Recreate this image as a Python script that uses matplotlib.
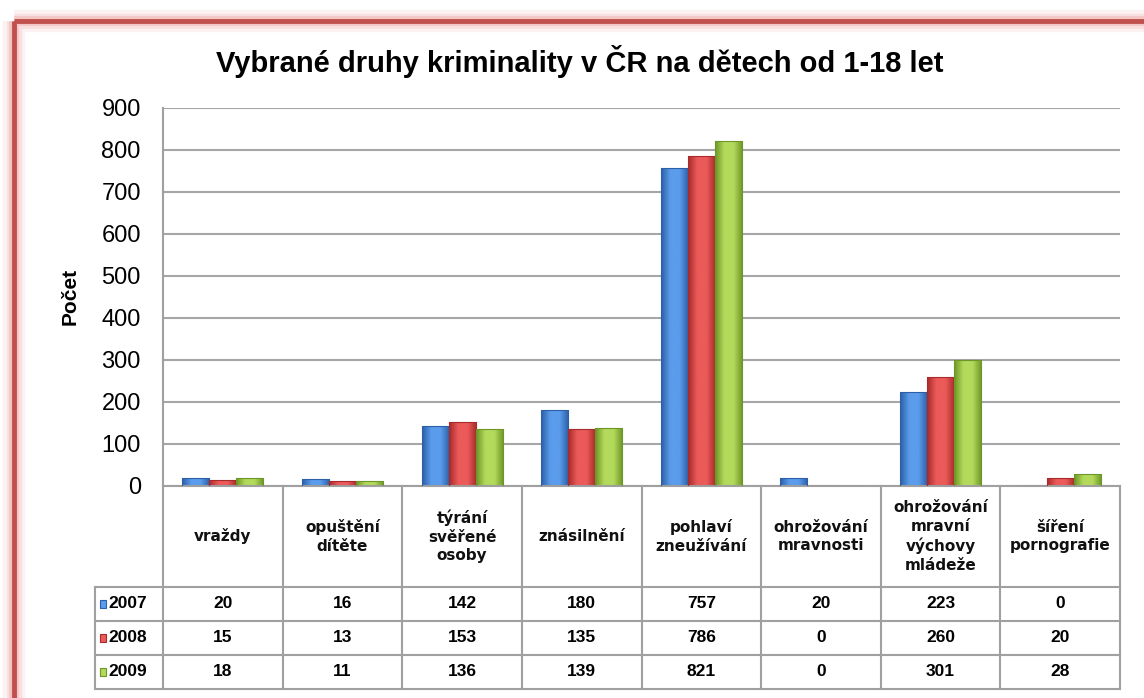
import numpy as np
import matplotlib
matplotlib.use("Agg")
import matplotlib.pyplot as plt
from matplotlib.colors import LinearSegmentedColormap
from matplotlib.patches import Rectangle

kategorie = ["vraždy", "opuštění\ndítěte", "týrání\nsvěřené\nosoby", "znásilnění",
             "pohlaví\nzneužívání", "ohrožování\nmravnosti", "ohrožování\nmravní\nvýchovy\nmládeže",
             "šíření\npornografie"]
roky = ["2007", "2008", "2009"]
h2007 = [20, 16, 142, 180, 757, 20, 223, 0]
h2008 = [15, 13, 153, 135, 786, 0, 260, 20]
h2009 = [18, 11, 136, 139, 821, 0, 301, 28]
serie = [h2007, h2008, h2009]
barvy = [("#2c5fa6", "#5b9cec"), ("#a82a2a", "#ec5a5a"), ("#6c9626", "#b4da5c")]

W, H = 1144, 698
fig = plt.figure(figsize=(W / 100, H / 100), dpi=100)
fig.patch.set_facecolor("white")

# ramecek s cervenym okrajem
bg = fig.add_axes([0, 0, 1, 1])
bg.set_xlim(0, W)
bg.set_ylim(H, 0)
bg.axis("off")
for lw, a in [(16, 0.08), (11, 0.12), (7, 0.2)]:
    bg.add_patch(Rectangle((14, 21), 1300, 900, fill=False, ec="#e06060", lw=lw, alpha=a))
bg.add_patch(Rectangle((14, 21), 1300, 900, fill=False, ec="#c0504d", lw=3.5))

def px(x0, y0, x1, y1):
    return [x0 / W, (H - y1) / H, (x1 - x0) / W, (y1 - y0) / H]

ax = fig.add_axes(px(163, 108, 1120, 486))
ax.set_xlim(-0.5, 7.5)
ax.set_ylim(0, 900)
ax.set_yticks(range(0, 901, 100))
ax.set_xticks([])
ax.tick_params(axis="y", length=0, pad=16, labelsize=17)
for s in ["top", "right"]:
    ax.spines[s].set_visible(False)
for s in ["left", "bottom"]:
    ax.spines[s].set_color("#a0a0a0")
    ax.spines[s].set_linewidth(1.5)
ax.grid(axis="y", color="#a6a6a6", lw=1.5)
ax.set_axisbelow(True)
for lab in ax.get_yticklabels():
    lab.set_family("Liberation Sans")

x = np.arange(len(kategorie))
sirka = 0.226
for i, (hodnoty, (tmava, svetla)) in enumerate(zip(serie, barvy)):
    cmap = LinearSegmentedColormap.from_list("g", [tmava, svetla, svetla, tmava])
    bars = ax.bar(x + (i - 1) * sirka, hodnoty, sirka, color="none", ec=tmava, lw=0.8, zorder=3)
    for b in bars:
        if b.get_height() <= 0:
            continue
        x0, w, h = b.get_x(), b.get_width(), b.get_height()
        im = ax.imshow(np.linspace(0, 1, 64).reshape(1, -1), cmap=cmap, aspect="auto",
                       extent=[x0, x0 + w, 0, h], zorder=2.5, interpolation="bicubic")
        im.set_clip_path(b)
ax.set_xlim(-0.5, 7.5)
ax.set_ylim(0, 900)

fig.text(580 / W, 1 - 62 / H, "Vybrané druhy kriminality v ČR na dětech od 1-18 let",
         ha="center", va="center", fontsize=21, fontweight="bold", family="Liberation Sans")
fig.text(70 / W, 1 - 296 / H, "Počet", rotation=90, ha="center", va="center",
         fontsize=15, fontweight="bold", family="Liberation Sans")

# tabulka s daty
tab = fig.add_axes(px(95, 486, 1120, 689))
tab.set_xlim(-0.5 - 68 / 119.625, 7.5)
tab.set_ylim(203, 0)
tab.axis("off")
leva = -0.5 - 68 / 119.625
sed = "#a0a0a0"
for yy in [101, 135, 169, 203]:
    tab.plot([leva, 7.5], [yy, yy], color=sed, lw=1.5, clip_on=False)
for k in range(9):
    tab.plot([k - 0.5, k - 0.5], [0, 203], color=sed, lw=1.5, clip_on=False)
tab.plot([leva, leva], [101, 203], color=sed, lw=1.5, clip_on=False)

for k, nazev in enumerate(kategorie):
    tab.text(k, 50.5, nazev, ha="center", va="center", fontsize=11, fontweight="bold",
             family="DejaVu Sans", linespacing=1.3, color="#111111")
for r, (rok, hodnoty, (tmava, svetla)) in enumerate(zip(roky, serie, barvy)):
    yc = 118 + 34 * r
    tab.add_patch(Rectangle((leva + 0.04, yc - 4), 0.055, 8, fc=svetla, ec=tmava, lw=0.8, clip_on=False))
    tab.text(leva + 0.11, yc, rok, ha="left", va="center", fontsize=12.5, fontweight="bold",
             family="Liberation Sans")
    for k, v in enumerate(hodnoty):
        tab.text(k, yc, str(v), ha="center", va="center", fontsize=12.5, fontweight="bold",
                 family="Liberation Sans")

fig.savefig("out.png", dpi=100, facecolor="white")
